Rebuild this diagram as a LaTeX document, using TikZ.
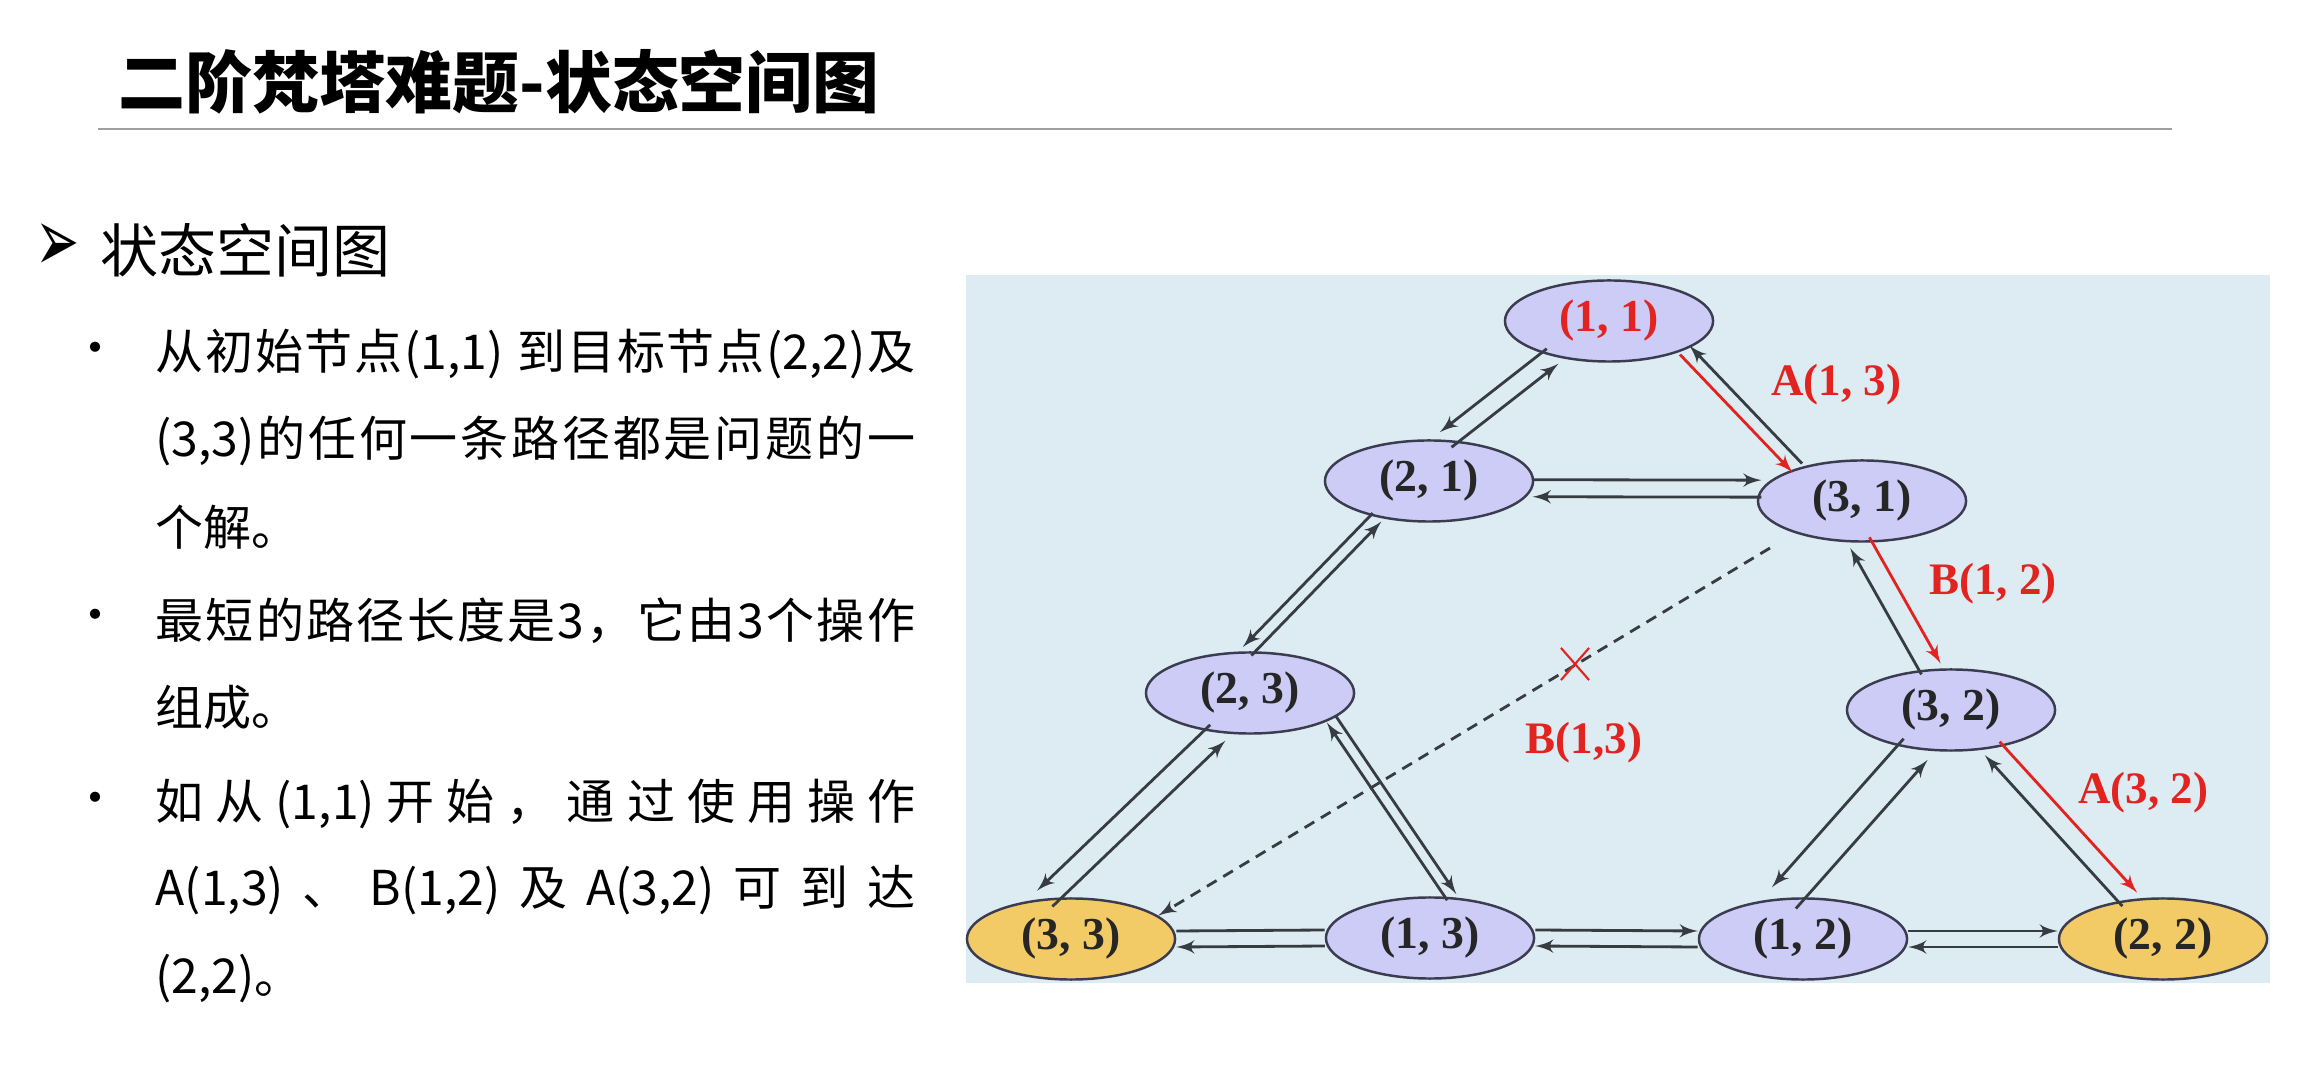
\documentclass[tikz,border=0pt]{standalone}
\usepackage{fontspec}
\setmainfont{Liberation Serif}
\newfontfamily\cjk{Noto Sans CJK SC}
\newfontfamily\symfont{DejaVu Sans}
\usetikzlibrary{arrows,calc,shapes.geometric,shapes.misc}

\definecolor{panel}{RGB}{221,235,243}
\definecolor{lav}{RGB}{204,204,246}
\definecolor{gold}{RGB}{243,203,102}
\definecolor{nodeline}{RGB}{60,60,80}
\definecolor{linec}{RGB}{55,60,66}
\definecolor{labred}{RGB}{226,36,32}
\definecolor{rulegray}{RGB}{160,160,160}

% two opposite arrows between (#2.#3) and (#4.#5), shifted by #1 to the left of a->b
\newcommand\twoway[7][0.085cm]{%
  \pgfpointdiff{\pgfpointanchor{#2}{#3}}{\pgfpointanchor{#4}{#5}}%
  \pgfgetlastxy{\dxx}{\dyy}%
  \pgfmathsetmacro\ang{atan2(\dyy,\dxx)}%
  \draw[edge,#6] ([shift={(\ang+90:#1)}]#2.#3) -- ([shift={(\ang+90:#1)}]#4.#5);
  \draw[edge,#7] ([shift={(\ang-90:#1)}]#4.#5) -- ([shift={(\ang-90:#1)}]#2.#3);
}

\begin{document}
\begin{tikzpicture}[x=0.01cm, y=0.01cm, >=latex',
    state/.style={ellipse, draw=nodeline, fill=lav, line width=0.7pt,
      minimum width=2.08cm, minimum height=0.81cm, inner sep=0pt,
      text=black!85, font=\fontsize{13pt}{15pt}\selectfont\bfseries},
    goal/.style={state, fill=gold},
    edge/.style={draw=linec, line width=0.8pt},
    redline/.style={draw=labred},
    oplabel/.style={text=labred, font=\fontsize{12.8pt}{15pt}\selectfont\bfseries},
    body/.style={anchor=west, inner sep=0pt, font=\cjk\fontsize{13.66pt}{16pt}\selectfont}]
  \useasboundingbox (0,0) rectangle (2304,1088);

  % title
  \node[anchor=west, inner sep=0pt, font=\cjk\bfseries\fontsize{19pt}{22pt}\selectfont]
    (title) at (118,1006) {二阶梵塔难题-状态空间图};
  \draw[rulegray, line width=0.6pt] (98,959) -- (2172,959);

  % text on the left
  \node[font=\symfont\fontsize{15pt}{16pt}\selectfont, inner sep=0pt] (mark) at (58,840) {\scalebox{1}[1.7]{➢}};
  \node[anchor=west, inner sep=0pt, font=\cjk\fontsize{16.5pt}{19pt}\selectfont]
    (head) at (100,838) {状态空间图};
  \foreach \y in {734,467,284}
    \node[font=\cjk\fontsize{13.66pt}{16pt}\selectfont, inner sep=0pt] (dot\y) at (96,\y) {•};
  \node[body] (l1) at (155,734) {\hbox to 7.59cm{从\hfil 初\hfil 始\hfil 节\hfil 点\hfil (1,1)\hfil\ \hfil 到\hfil 目\hfil 标\hfil 节\hfil 点\hfil (2,2)\hfil 及}};
  \node[body] (l2) at (155,647) {\hbox to 7.59cm{(3,3)\hfil 的\hfil 任\hfil 何\hfil 一\hfil 条\hfil 路\hfil 径\hfil 都\hfil 是\hfil 问\hfil 题\hfil 的\hfil 一}};
  \node[body] (l3) at (155,561) {个解。};
  \node[body] (l4) at (155,467) {\hbox to 7.59cm{最\hfil 短\hfil 的\hfil 路\hfil 径\hfil 长\hfil 度\hfil 是\hfil 3\hfil ，\hfil 它\hfil 由\hfil 3\hfil 个\hfil 操\hfil 作}};
  \node[body] (l5) at (155,381) {组成。};
  \node[body] (l6) at (155,284) {\hbox to 7.59cm{如\hfil 从\hfil (1,1)\hfil 开\hfil 始\hfil ，\hfil 通\hfil 过\hfil 使\hfil 用\hfil 操\hfil 作}};
  \node[body] (l7) at (155,198) {\hbox to 7.59cm{A(1,3)\hfil 、\hfil B(1,2)\hfil 及\hfil A(3,2)\hfil 可\hfil 到\hfil 达}};
  \node[body] (l8) at (155,109) {(2,2)。};

  % state space
  \fill[panel] (966,105) rectangle (2270,813);
  \node[state, text=labred] (n11) at (1609,767) {(1, 1)};
  \node[state] (n21) at (1429,607) {(2, 1)};
  \node[state] (n31) at (1862,587) {(3, 1)};
  \node[state] (n23) at (1250,395) {(2, 3)};
  \node[state] (n32) at (1951,378) {(3, 2)};
  \node[goal]  (n33) at (1071,149) {(3, 3)};
  \node[state] (n13) at (1430,150) {(1, 3)};
  \node[state] (n12) at (1803,149) {(1, 2)};
  \node[goal]  (n22) at (2163,149) {(2, 2)};

  \foreach \a/\b in {n13/n12, n12/n22}
    {\twoway[0.08cm]{\a}{0}{\b}{180}{->}{->}}
  \twoway[0.08cm]{n33}{0}{n13}{180}{}{->}
  \twoway{n21}{-4}{n31}{173}{->}{->}
  \twoway[0.055cm]{n23}{-18.6}{n13}{62.9}{->}{->}
  \twoway[0.11cm]{n31}{-93}{n32}{116}{->,redline}{->}
  \twoway[0.1cm]{n32}{-43}{n22}{130}{->,redline}{->}
  \twoway[-0.095cm]{n11}{212}{n21}{68.7}{->}{->}
  \twoway[-0.065cm]{n11}{-21.4}{n31}{153.7}{->,redline}{->}
  \twoway[-0.06cm]{n21}{215}{n23}{94}{->}{->}
  \twoway[-0.11cm]{n23}{231}{n33}{123.4}{->}{->}
  \twoway[-0.16cm]{n32}{228.6}{n12}{115.5}{->}{->}

  \coordinate (cut) at (1770,540);
  \draw[edge, dash pattern=on 3.2pt off 2.2pt, ->] (cut) -- (n33.15);
  \node[cross out, draw=labred, line width=0.6pt, minimum width=0.26cm, minimum height=0.3cm,
    inner sep=0pt] (cross) at (1575,424) {};

  \node[oplabel] (a13) at (1836,703) {A(1, 3)};
  \node[oplabel] (b12) at (1993,504) {B(1, 2)};
  \node[oplabel] (b13) at (1584,345) {B(1,3)};
  \node[oplabel] (a32) at (2143,295) {A(3, 2)};
\end{tikzpicture}
\end{document}
